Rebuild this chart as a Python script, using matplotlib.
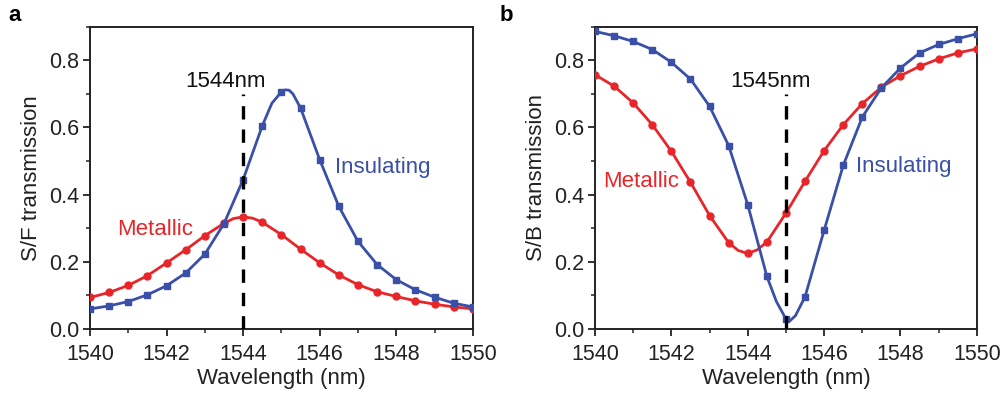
import numpy as np
import matplotlib.pyplot as plt
from matplotlib.ticker import MultipleLocator

plt.rcParams['font.family'] = ['Liberation Sans', 'DejaVu Sans']

# wavelength grid of the measured points (nm)
wl = [1540.0, 1540.5, 1541.0, 1541.5, 1542.0, 1542.5, 1543.0, 1543.5, 1544.0, 1544.5,
      1545.0, 1545.5, 1546.0, 1546.5, 1547.0, 1547.5, 1548.0, 1548.5, 1549.0, 1549.5, 1550.0]

# panel a: S/F transmission
sf_metallic = [0.094, 0.109, 0.130, 0.159, 0.197, 0.236, 0.278, 0.315, 0.334, 0.318,
               0.281, 0.238, 0.197, 0.161, 0.132, 0.111, 0.097, 0.084, 0.074, 0.066, 0.060]
sf_insulating = [0.060, 0.069, 0.082, 0.102, 0.129, 0.167, 0.223, 0.314, 0.445, 0.605,
                 0.706, 0.658, 0.504, 0.365, 0.261, 0.192, 0.147, 0.117, 0.095, 0.077, 0.066]

# panel b: S/B transmission
sb_metallic = [0.757, 0.723, 0.673, 0.608, 0.529, 0.437, 0.338, 0.257, 0.225, 0.259,
               0.345, 0.440, 0.531, 0.608, 0.671, 0.720, 0.754, 0.782, 0.804, 0.822, 0.834]
sb_insulating = [0.886, 0.873, 0.856, 0.832, 0.794, 0.744, 0.663, 0.546, 0.370, 0.157,
                 0.030, 0.096, 0.294, 0.487, 0.631, 0.718, 0.777, 0.822, 0.847, 0.864, 0.879]

# extra points of the fitted curves near the extrema
sf_metallic_fit_x = [1543.75, 1544.25]
sf_metallic_fit_y = [0.329, 0.330]
sf_insulating_fit_x = [1544.75, 1545.1, 1545.2, 1545.3]
sf_insulating_fit_y = [0.672, 0.712, 0.711, 0.700]
sb_metallic_fit_x = [1543.75, 1544.25]
sb_metallic_fit_y = [0.234, 0.236]
sb_insulating_fit_x = [1544.75, 1545.1, 1545.25]
sb_insulating_fit_y = [0.082, 0.024, 0.040]

red = '#e8262a'
blue = '#3a50a8'
dark = '#222222'
fs = 16

fig = plt.figure(figsize=(10.06, 3.96), dpi=100)
ax_a = fig.add_axes([0.0895, 0.169, 0.3805, 0.7636])
ax_b = fig.add_axes([0.5915, 0.169, 0.3795, 0.7636])


def curve(ax, y, fx, fy, color, marker):
    x = np.concatenate([wl, fx])
    yy = np.concatenate([y, fy])
    order = np.argsort(x)
    ax.plot(x[order], yy[order], '-', color=color, lw=2, zorder=3)
    ax.plot(wl, y, marker, color=color, ms=5, ls='none', zorder=3)


def style(ax, ylabel):
    ax.set_xlim(1540, 1550)
    ax.set_ylim(0, 0.9)
    ax.xaxis.set_major_locator(MultipleLocator(2))
    ax.xaxis.set_minor_locator(MultipleLocator(1))
    ax.yaxis.set_major_locator(MultipleLocator(0.2))
    ax.yaxis.set_minor_locator(MultipleLocator(0.1))
    ax.yaxis.set_major_formatter(plt.FormatStrFormatter('%.1f'))
    ax.tick_params(which='major', direction='out', length=5, width=1.3, labelsize=15.5,
                   colors=dark, pad=3)
    ax.tick_params(axis='x', which='major', pad=6)
    ax.tick_params(which='minor', direction='out', length=3, width=1.1, colors=dark)
    for s in ax.spines.values():
        s.set_linewidth(1.4)
        s.set_color(dark)
    ax.set_xlabel('Wavelength (nm)', fontsize=fs, labelpad=2, color=dark)
    ax.set_ylabel(ylabel, fontsize=fs, labelpad=5, color=dark)


# panel a
curve(ax_a, sf_metallic, sf_metallic_fit_x, sf_metallic_fit_y, red, 'o')
curve(ax_a, sf_insulating, sf_insulating_fit_x, sf_insulating_fit_y, blue, 's')
ax_a.plot([1544, 1544], [0, 0.70], '--', color='black', lw=2.4, dashes=(4, 3), zorder=4)
ax_a.text(1543.55, 0.737, '1544nm', fontsize=fs, ha='center', va='center', color='#111111')
ax_a.text(1546.4, 0.48, 'Insulating', fontsize=fs, ha='left', va='center', color=blue)
ax_a.text(1540.7, 0.295, 'Metallic', fontsize=fs, ha='left', va='center', color=red)
style(ax_a, 'S/F transmission')

# panel b
curve(ax_b, sb_metallic, sb_metallic_fit_x, sb_metallic_fit_y, red, 'o')
curve(ax_b, sb_insulating, sb_insulating_fit_x, sb_insulating_fit_y, blue, 's')
ax_b.plot([1545, 1545], [0, 0.70], '--', color='black', lw=2.4, dashes=(4, 3), zorder=4)
ax_b.text(1544.6, 0.737, '1545nm', fontsize=fs, ha='center', va='center', color='#111111')
ax_b.text(1546.84, 0.484, 'Insulating', fontsize=fs, ha='left', va='center', color=blue)
ax_b.text(1540.2, 0.439, 'Metallic', fontsize=fs, ha='left', va='center', color=red)
style(ax_b, 'S/B transmission')

fig.text(0.008, 0.96, 'a', fontsize=fs, fontweight='bold', va='center')
fig.text(0.497, 0.96, 'b', fontsize=fs, fontweight='bold', va='center')

fig.savefig('out.png', dpi=100)
